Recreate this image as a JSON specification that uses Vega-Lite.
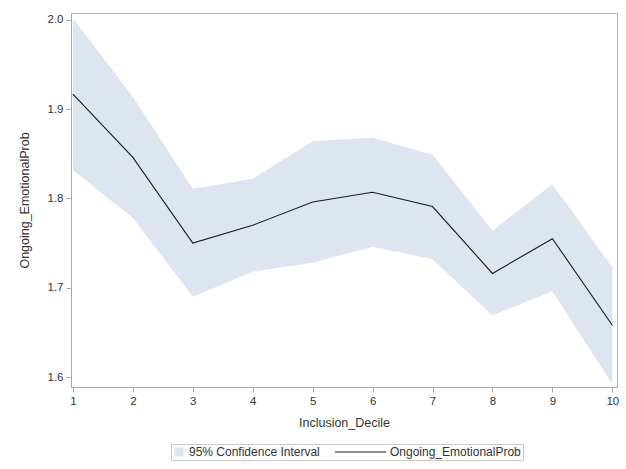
{
  "$schema": "https://vega.github.io/schema/vega-lite/v6.json",
  "width": 546,
  "height": 374,
  "autosize": "none",
  "padding": {"left": 71, "top": 13, "right": 9, "bottom": 82},
  "background": "white",
  "config": {
    "font": "Liberation Sans",
    "view": {"stroke": "#b4b4b4", "strokeWidth": 1},
    "axis": {
      "grid": false,
      "domainColor": "#a8a8a8",
      "tickColor": "#a8a8a8",
      "tickSize": 5,
      "labelColor": "#333333",
      "titleColor": "#333333",
      "labelFont": "Liberation Sans",
      "titleFont": "Liberation Sans",
      "labelFontSize": 11.5,
      "titleFontSize": 12.5,
      "titleFontWeight": "normal"
    },
    "legend": {
      "orient": "none",
      "legendX": 100,
      "legendY": 431,
      "direction": "horizontal",
      "padding": 2,
      "strokeColor": "#c8c8c8",
      "fillColor": "white",
      "columnPadding": 12,
      "symbolSize": 64,
      "symbolStrokeWidth": 1,
      "labelFont": "Liberation Sans",
      "labelFontSize": 12,
      "labelColor": "#333333",
      "labelLimit": 300
    }
  },
  "data": {
    "values": [
      {"decile": 1, "estimate": 1.917, "lower": 1.832, "upper": 2.002},
      {"decile": 2, "estimate": 1.846, "lower": 1.778, "upper": 1.914},
      {"decile": 3, "estimate": 1.750, "lower": 1.690, "upper": 1.811},
      {"decile": 4, "estimate": 1.770, "lower": 1.718, "upper": 1.822},
      {"decile": 5, "estimate": 1.796, "lower": 1.728, "upper": 1.864},
      {"decile": 6, "estimate": 1.807, "lower": 1.746, "upper": 1.868},
      {"decile": 7, "estimate": 1.791, "lower": 1.732, "upper": 1.849},
      {"decile": 8, "estimate": 1.716, "lower": 1.669, "upper": 1.764},
      {"decile": 9, "estimate": 1.755, "lower": 1.696, "upper": 1.816},
      {"decile": 10, "estimate": 1.658, "lower": 1.592, "upper": 1.723}
    ]
  },
  "encoding": {
    "x": {
      "field": "decile",
      "type": "quantitative",
      "scale": {"domain": [0.968, 10.078], "nice": false, "zero": false},
      "axis": {
        "title": "Inclusion_Decile",
        "values": [1, 2, 3, 4, 5, 6, 7, 8, 9, 10],
        "format": "d",
        "labelPadding": 3,
        "titlePadding": 10
      }
    }
  },
  "layer": [
    {
      "mark": {"type": "area", "opacity": 1},
      "encoding": {
        "y": {
          "field": "lower",
          "type": "quantitative",
          "scale": {"domain": [1.5888, 2.0078], "nice": false, "zero": false},
          "axis": {
            "title": "Ongoing_EmotionalProb",
            "values": [1.6, 1.7, 1.8, 1.9, 2.0],
            "format": ".1f",
            "labelPadding": 3,
            "titlePadding": 16
          }
        },
        "y2": {"field": "upper"},
        "color": {
          "datum": "95% Confidence Interval",
          "scale": {
            "domain": ["95% Confidence Interval", "Ongoing_EmotionalProb"],
            "range": ["#dce5f0", "#1a1a1a"]
          },
          "legend": {
            "title": null,
            "encode": {
              "symbols": {
                "update": {
                  "shape": {"signal": "datum.value === '95% Confidence Interval' ? 'square' : 'M-6.4,0H6.4'"},
                  "fill": {"signal": "datum.value === '95% Confidence Interval' ? '#dce5f0' : 'transparent'"},
                  "stroke": {"signal": "datum.value === '95% Confidence Interval' ? '#3c3c3c' : '#1a1a1a'"},
                  "strokeWidth": {"value": 1},
                  "opacity": {"value": 1},
                  "x": {"signal": "datum.value === '95% Confidence Interval' ? 6 : 25.5"}
                }
              },
              "labels": {
                "update": {
                  "x": {"signal": "datum.value === '95% Confidence Interval' ? 16 : 55"}
                }
              }
            }
          }
        }
      }
    },
    {
      "mark": {"type": "line", "strokeWidth": 1.1},
      "encoding": {
        "y": {"field": "estimate", "type": "quantitative"},
        "color": {
          "datum": "Ongoing_EmotionalProb",
          "legend": {
            "title": null,
            "encode": {
              "symbols": {
                "update": {
                  "shape": {"signal": "datum.value === '95% Confidence Interval' ? 'square' : 'M-6.4,0H6.4'"},
                  "fill": {"signal": "datum.value === '95% Confidence Interval' ? '#dce5f0' : 'transparent'"},
                  "stroke": {"signal": "datum.value === '95% Confidence Interval' ? '#3c3c3c' : '#1a1a1a'"},
                  "strokeWidth": {"value": 1},
                  "opacity": {"value": 1},
                  "x": {"signal": "datum.value === '95% Confidence Interval' ? 6 : 25.5"}
                }
              },
              "labels": {
                "update": {
                  "x": {"signal": "datum.value === '95% Confidence Interval' ? 16 : 55"}
                }
              }
            }
          }
        }
      }
    }
  ]
}
